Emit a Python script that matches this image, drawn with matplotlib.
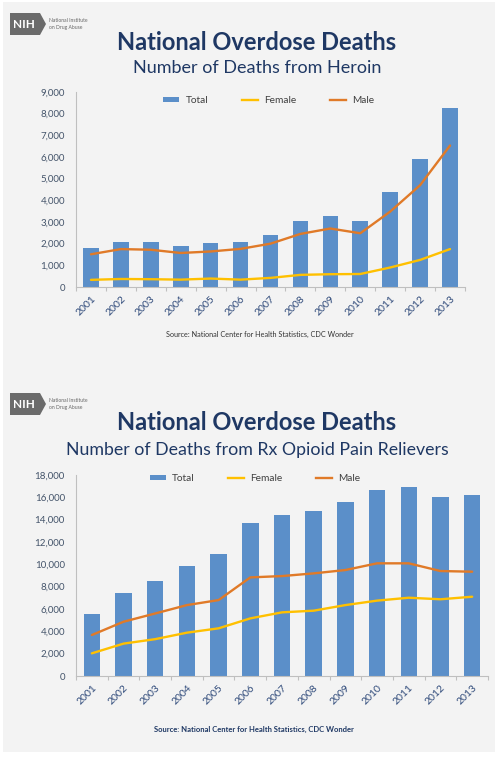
import matplotlib
matplotlib.use('Agg')
import matplotlib.pyplot as plt
from matplotlib.patches import Rectangle, Polygon, Patch
from matplotlib.lines import Line2D

plt.rcParams['font.family'] = ['Lato', 'DejaVu Sans']

# data
years = ['2001', '2002', '2003', '2004', '2005', '2006', '2007',
         '2008', '2009', '2010', '2011', '2012', '2013']

heroin_total = [1779, 2089, 2080, 1878, 2009, 2088, 2399, 3041, 3278, 3036, 4397, 5925, 8257]
heroin_female = [330, 370, 360, 340, 390, 340, 420, 560, 590, 600, 900, 1250, 1750]
heroin_male = [1510, 1750, 1720, 1570, 1640, 1760, 2000, 2450, 2700, 2480, 3480, 4700, 6530]

rx_total = [5528, 7456, 8517, 9857, 10928, 13723, 14408, 14800, 15597, 16651, 16917, 16007, 16235]
rx_female = [2030, 2900, 3300, 3880, 4270, 5160, 5700, 5850, 6350, 6750, 7010, 6870, 7100]
rx_male = [3670, 4860, 5600, 6350, 6800, 8830, 8950, 9190, 9490, 10090, 10090, 9400, 9340]

W, H = 502, 762
BLUE = '#5b8fc9'
YELLOW = '#ffc000'
ORANGE = '#e07a28'
NAVY = '#1f3864'
LABEL = '#44546a'

fig = plt.figure(figsize=(W / 100, H / 100), dpi=100)
fig.patch.set_facecolor('white')


def px(l, t, r, b):
    return [l / W, 1 - b / H, (r - l) / W, (b - t) / H]


def fx(x):
    return x / W


def fy(y):
    return 1 - y / H


# grey panel
fig.patches.append(Rectangle((fx(3), fy(752)), fx(495) - fx(3), fy(2) - fy(752),
                             transform=fig.transFigure, facecolor='#f3f3f3',
                             edgecolor='none', zorder=-5))


def logo(top):
    pts = [(10, top), (40, top), (46, top + 11), (40, top + 22), (10, top + 22)]
    poly = Polygon([(fx(a), fy(b)) for a, b in pts], closed=True,
                   transform=fig.transFigure, facecolor='#6b6b6b', edgecolor='none',
                   zorder=-4)
    fig.patches.append(poly)
    fig.text(fx(24), fy(top + 11), 'NIH', color='white', fontsize=8.5,
             fontweight='bold', ha='center', va='center')
    fig.text(fx(49), fy(top + 7), 'National Institute', color='#666666', fontsize=3.6,
             ha='left', va='center')
    fig.text(fx(49), fy(top + 14), 'on Drug Abuse', color='#666666', fontsize=3.6,
             ha='left', va='center')


def chart(rect, total, female, male, ymax, ystep, leg_x, leg_y):
    ax = fig.add_axes(rect)
    ax.set_facecolor('none')
    x = list(range(len(years)))
    ax.bar(x, total, width=0.52, color=BLUE, zorder=2)
    ax.plot(x, female, color=YELLOW, lw=1.7, zorder=3, solid_capstyle='round')
    ax.plot(x, male, color=ORANGE, lw=1.7, zorder=3, solid_capstyle='round')
    ax.set_xlim(-0.5, len(years) - 0.5)
    ax.set_ylim(0, ymax)
    ax.set_yticks(range(0, ymax + 1, ystep))
    ax.set_yticklabels([f'{v:,}' for v in range(0, ymax + 1, ystep)])
    ax.set_xticks(x)
    ax.set_xticklabels(years, rotation=45, ha='right', rotation_mode='anchor')
    ax.set_xticks([i - 0.5 for i in range(len(years) + 1)], minor=True)
    ax.tick_params(axis='x', which='major', length=0, labelsize=7.5,
                   labelcolor='#2f4a7a', pad=5)
    ax.tick_params(axis='x', which='minor', length=3, color='#bfbfbf', width=0.8)
    ax.tick_params(axis='y', length=0, labelsize=7, labelcolor=LABEL, pad=8)
    for s in ['top', 'right']:
        ax.spines[s].set_visible(False)
    for s in ['left', 'bottom']:
        ax.spines[s].set_color('#bfbfbf')
        ax.spines[s].set_linewidth(0.8)
    handles = [Patch(facecolor=BLUE, edgecolor='none'),
               Line2D([], [], color=YELLOW, lw=1.7),
               Line2D([], [], color=ORANGE, lw=1.7)]
    leg = ax.legend(handles, ['Total', 'Female', 'Male'], ncol=3, frameon=False,
                    loc='upper center', bbox_to_anchor=(leg_x, leg_y), fontsize=7.3,
                    handlelength=1.6, handleheight=0.45, columnspacing=3.3,
                    handletextpad=0.6)
    for t in leg.get_texts():
        t.set_color('#404040')
    return ax


# heroin chart
logo(13)
fig.text(fx(257), fy(43), 'National Overdose Deaths', color=NAVY, fontsize=17,
         fontweight='bold', ha='center', va='center')
fig.text(fx(257), fy(68), 'Number of Deaths from Heroin', color=NAVY, fontsize=13,
         ha='center', va='center')
chart(px(76, 92, 465, 287), heroin_total, heroin_female, heroin_male, 9000, 1000,
      0.495, 1.025)
fig.text(fx(260), fy(334), 'Source: National Center for Health Statistics, CDC Wonder',
         color='#333333', fontsize=5.2, ha='center', va='center')

# rx opioid chart
logo(393)
fig.text(fx(257), fy(423), 'National Overdose Deaths', color=NAVY, fontsize=17,
         fontweight='bold', ha='center', va='center')
fig.text(fx(257), fy(450), 'Number of Deaths from Rx Opioid Pain Relievers', color=NAVY,
         fontsize=12.8, ha='center', va='center')
chart(px(76, 475, 488, 676), rx_total, rx_female, rx_male, 18000, 2000,
      0.435, 1.05)
fig.text(fx(254), fy(729), 'Source: National Center for Health Statistics, CDC Wonder',
         color=NAVY, fontsize=5.5, fontweight='bold', ha='center', va='center')

fig.savefig('out.png', dpi=100, facecolor=fig.get_facecolor())
